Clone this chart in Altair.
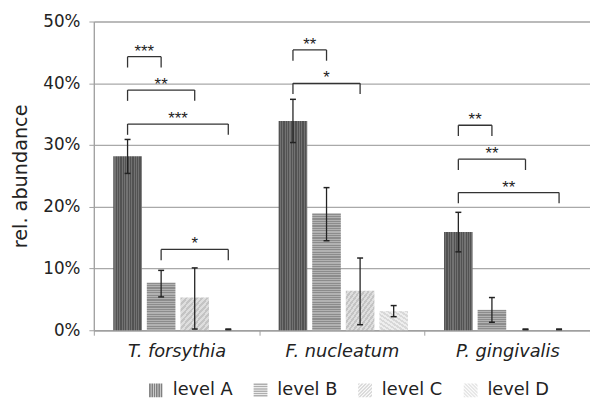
import altair as alt
import pandas as pd

# ---------------- data ----------------
categories = ["T. forsythia", "F. nucleatum", "P. gingivalis"]
levels = ["level A", "level B", "level C", "level D"]

# relative abundance in %, one list per category (levels A..D)
val_tf = [28.2, 7.7, 5.3, 0.0]
val_fn = [33.9, 18.9, 6.4, 3.1]
val_pg = [15.9, 3.3, 0.0, 0.0]
# error bar ends (low / high) in %
lo_tf = [25.4, 5.4, 0.2, 0.1]
hi_tf = [30.9, 9.7, 10.1, 0.2]
lo_fn = [30.4, 14.5, 0.9, 2.2]
hi_fn = [37.4, 23.1, 11.7, 4.0]
lo_pg = [12.7, 1.3, 0.1, 0.1]
hi_pg = [19.1, 5.3, 0.2, 0.2]

# significance brackets
br_cat = ["T. forsythia", "T. forsythia", "T. forsythia", "T. forsythia",
          "F. nucleatum", "F. nucleatum",
          "P. gingivalis", "P. gingivalis", "P. gingivalis"]
br_from = ["level A", "level A", "level A", "level B",
           "level A", "level A", "level A", "level A", "level A"]
br_to = ["level B", "level C", "level D", "level D",
         "level B", "level C", "level B", "level C", "level D"]
br_top = [44.3, 38.9, 33.4, 13.1, 45.4, 40.0, 33.2, 27.7, 22.3]
br_stars = ["***", "**", "***", "*", "**", "*", "**", "**", "**"]

y_ticks = [0, 10, 20, 30, 40, 50]

# ---------------- layout / style ----------------
W, H = 503, 313
FONT = "DejaVu Sans"
OFF0, STEP, HALF = 0.204, 0.203, 0.0865   # in category-band units
CAP = 0.018
LEG = 1.75

rows = []
for ci, (vals, los, his) in enumerate([(val_tf, lo_tf, hi_tf), (val_fn, lo_fn, hi_fn), (val_pg, lo_pg, hi_pg)]):
    for li, lev in enumerate(levels):
        rows.append(dict(cat=categories[ci], ci=ci, level=lev, li=li,
                         value=vals[li], lo=los[li], hi=his[li]))
df = pd.DataFrame(rows)

br = pd.DataFrame(dict(cat=br_cat, ci=[categories.index(c) for c in br_cat],
                       fi=[levels.index(l) for l in br_from],
                       ti=[levels.index(l) for l in br_to],
                       top=br_top, stars=br_stars))

xscale = alt.Scale(domain=[0, 3], nice=False, zero=False, padding=0)
yscale = alt.Scale(domain=[0, 50], nice=False)
yaxis = alt.Axis(values=y_ticks, labelExpr="datum.value + '%'", title="rel. abundance",
                 grid=True, gridColor="#a9a9a9", gridWidth=1.3,
                 domainColor="#a0a0a0", domainWidth=1.3, tickColor="#a0a0a0", tickSize=5,
                 labelFont=FONT, labelFontSize=17, labelColor="#222222", labelPadding=9,
                 titleFont=FONT, titleFontSize=19.5, titleFontWeight="normal",
                 titleColor="#222222", titlePadding=12)


def Y(field):
    return alt.Y(field, type="quantitative", scale=yscale, axis=yaxis)


def stops(n, c1, c2):
    s = []
    for k in range(n):
        a, b, c = k / n, (k + 0.5) / n, (k + 1) / n
        s += [alt.GradientStop(offset=a, color=c1), alt.GradientStop(offset=b, color=c1),
              alt.GradientStop(offset=b, color=c2), alt.GradientStop(offset=c, color=c2)]
    return s


bar_w_px = 2 * HALF * W / 3
layers = []

# invisible layer carrying the category axis
layers.append(
    alt.Chart(df).mark_point(opacity=0).encode(
        x=alt.X("cat:N", scale=alt.Scale(domain=categories, paddingInner=0, paddingOuter=0),
                axis=alt.Axis(title=None, tickBand="extent", tickSize=5, tickColor="#a0a0a0",
                              domainColor="#a0a0a0", domainWidth=1.3,
                              labelAngle=0, labelFont=FONT, labelFontStyle="italic",
                              labelFontSize=18, labelColor="#222222", labelPadding=8)),
        y=Y("value"),
    )
)

pos_calc = dict(xc=f"datum.ci + {OFF0} + {STEP} * datum.li")

for r in rows:
    if r["value"] <= 0:
        continue
    h = r["value"] / 50 * H
    li = r["li"]
    if li == 0:
        grad = alt.LinearGradient(gradient="linear", stops=stops(12, "#525252", "#727272"),
                                  x1=0, x2=1, y1=0, y2=0)
    elif li == 1:
        n = max(1, round(h / 2.4))
        grad = alt.LinearGradient(gradient="linear", stops=stops(n, "#8c8c8c", "#b2b2b2"),
                                  x1=0, x2=0, y1=0, y2=1)
    elif li == 2:
        n = max(1, round((h + bar_w_px) / 5.5))
        grad = alt.LinearGradient(gradient="linear", stops=stops(n, "#c4c4c4", "#dedede"),
                                  x1=0, x2=1, y1=0, y2=1)
    else:
        n = max(1, round((h + bar_w_px) / 5.5))
        grad = alt.LinearGradient(gradient="linear", stops=stops(n, "#d8d8d8", "#eeeeee"),
                                  x1=1, x2=0, y1=0, y2=1)
    layers.append(
        alt.Chart(df).transform_filter(f"datum.ci == {r['ci']} && datum.li == {li}")
        .transform_calculate(**pos_calc)
        .transform_calculate(x0=f"datum.xc - {HALF}", x1=f"datum.xc + {HALF}")
        .mark_bar(fill=grad, strokeWidth=0)
        .encode(x=alt.X("x0:Q", scale=xscale, axis=None), x2="x1:Q",
                y=Y("value"), y2=alt.datum(0))
    )

# error bars
eb = alt.Chart(df).transform_calculate(**pos_calc).transform_calculate(
    c0=f"datum.xc - {CAP}", c1=f"datum.xc + {CAP}")
layers.append(
    eb.mark_rule(color="#222222", strokeWidth=1.3).encode(
        x=alt.X("xc:Q", scale=xscale, axis=None), y=Y("lo"), y2="hi")
)
layers.append(
    eb.mark_rule(color="#222222", strokeWidth=1.5).encode(
        x=alt.X("c0:Q", scale=xscale, axis=None), x2="c1:Q", y=Y("hi"))
)
layers.append(
    eb.mark_rule(color="#222222", strokeWidth=1.5).encode(
        x=alt.X("c0:Q", scale=xscale, axis=None), x2="c1:Q", y=Y("lo"))
)

# significance brackets
bb = alt.Chart(br).transform_calculate(
    xa=f"datum.ci + {OFF0} + {STEP} * datum.fi",
    xb=f"datum.ci + {OFF0} + {STEP} * datum.ti",
    leg=f"datum.top - {LEG}",
).transform_calculate(xm="(datum.xa + datum.xb) / 2")
layers.append(
    bb.mark_rule(color="#333333", strokeWidth=1.3).encode(
        x=alt.X("xa:Q", scale=xscale, axis=None), x2="xb:Q", y=Y("top"))
)
layers.append(
    bb.mark_rule(color="#333333", strokeWidth=1.3).encode(
        x=alt.X("xa:Q", scale=xscale, axis=None), y=Y("top"), y2="leg")
)
layers.append(
    bb.mark_rule(color="#333333", strokeWidth=1.3).encode(
        x=alt.X("xb:Q", scale=xscale, axis=None), y=Y("top"), y2="leg")
)
layers.append(
    bb.mark_text(font="Liberation Sans", fontSize=17, color="#222222", baseline="alphabetic",
                 dy=0).encode(
        x=alt.X("xm:Q", scale=xscale, axis=None), y=Y("top"), text="stars:N")
)


# legend with patterned symbols (custom SVG paths in the unit square)
def rect(x0, y0, x1, y1):
    return f"M{x0:.3f},{y0:.3f}L{x1:.3f},{y0:.3f}L{x1:.3f},{y1:.3f}L{x0:.3f},{y1:.3f}Z"


def clip(poly, a, b, c):
    out = []
    n = len(poly)
    for i in range(n):
        p, q = poly[i], poly[(i + 1) % n]
        fp = a * p[0] + b * p[1] - c
        fq = a * q[0] + b * q[1] - c
        if fp <= 0:
            out.append(p)
        if fp * fq < 0:
            t = fp / (fp - fq)
            out.append((p[0] + t * (q[0] - p[0]), p[1] + t * (q[1] - p[1])))
    return out


def diag_path(sign, period=0.5, width=0.3):
    sq = [(-1, -1), (1, -1), (1, 1), (-1, 1)]
    parts = []
    s = -2.0
    while s < 2.0:
        poly = clip(sq, 1, sign, s + width)
        poly = clip(poly, -1, -sign, -s)
        if len(poly) >= 3:
            parts.append("M" + "L".join(f"{x:.3f},{y:.3f}" for x, y in poly) + "Z")
        s += period
    return "".join(parts)


n_str = 6
per = 2 / n_str
path_a = "".join(rect(-1 + k * per, -1, -1 + k * per + 0.25, 1) for k in range(n_str))
path_b = "".join(rect(-1, -1 + k * per, 1, -1 + k * per + 0.22) for k in range(n_str))
path_c = diag_path(1)
path_d = diag_path(-1)

layers.append(
    alt.Chart(df).transform_filter("datum.value < 0").mark_point(filled=True).encode(
        x=alt.X("xc:Q", scale=xscale, axis=None),
        y=Y("value"),
        color=alt.Color("level:N", scale=alt.Scale(domain=levels,
                        range=["#4a4a4a", "#8c8c8c", "#c4c4c4", "#d8d8d8"]),
                        legend=alt.Legend(title=None, orient="none", direction="horizontal",
                                          legendX=54, legendY=365, symbolSize=196,
                                          symbolStrokeWidth=0, labelFont=FONT,
                                          labelFontSize=18, labelColor="#222222",
                                          labelOffset=8, columnPadding=19, padding=0)),
        shape=alt.Shape("level:N", scale=alt.Scale(domain=levels,
                        range=[path_a, path_b, path_c, path_d]), legend=None),
    ).transform_calculate(xc="0")
)

chart = alt.layer(*layers).resolve_scale(x="independent").properties(
    width=W, height=H,
    autosize=alt.AutoSizeParams(type="none"),
    padding={"left": 87, "top": 11, "right": 0, "bottom": 69},
).configure_view(stroke=None).configure(background="white")

chart.save("out.html", embed_options={"renderer": "svg", "actions": False})
